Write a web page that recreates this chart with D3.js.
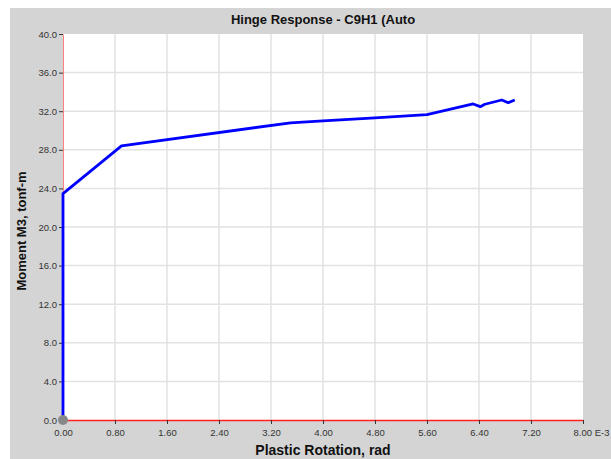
<!DOCTYPE html>
<html>
<head>
<meta charset="utf-8">
<script src="https://cdn.jsdelivr.net/npm/d3@7"></script>
<style>
  html, body { margin: 0; padding: 0; background: #ffffff; }
  svg { display: block; font-family: "Liberation Sans", Arial, sans-serif; }
</style>
</head>
<body>
<svg id="chart" width="611" height="459"></svg>
<script>
// Hinge backbone: plastic rotation (x 1e-3 rad) vs moment M3 (tonf-m)
const rotation = [0, 0, 0.90, 3.50, 4.00, 4.80, 5.60, 6.31, 6.42, 6.49, 6.75, 6.85, 6.95];
const moment   = [0, 23.45, 28.40, 30.80, 31.00, 31.30, 31.65, 32.75, 32.47, 32.72, 33.16, 32.88, 33.16];
const xTicks = [0, 0.8, 1.6, 2.4, 3.2, 4.0, 4.8, 5.6, 6.4, 7.2, 8.0];
const yTicks = [0, 4, 8, 12, 16, 20, 24, 28, 32, 36, 40];

const svg = d3.select("#chart");
const W = 611, H = 459;
const plot = { left: 63, right: 583, top: 34, bottom: 420 };

// panel background
svg.append("rect").attr("x", 10).attr("y", 8).attr("width", W - 10).attr("height", H - 8)
  .attr("fill", "#d4d4d4");
svg.append("rect").attr("x", plot.left).attr("y", plot.top)
  .attr("width", plot.right - plot.left).attr("height", plot.bottom - plot.top)
  .attr("fill", "#ffffff");

const x = d3.scaleLinear().domain([0, 8]).range([plot.left, plot.right]);
const y = d3.scaleLinear().domain([0, 40]).range([plot.bottom, plot.top]);

// grid
svg.append("g").selectAll("line").data(xTicks.slice(1, -1)).join("line")
  .attr("x1", d => x(d)).attr("x2", d => x(d))
  .attr("y1", plot.top).attr("y2", plot.bottom)
  .attr("stroke", "#e2e2e2").attr("stroke-width", 1.5);
svg.append("g").selectAll("line").data(yTicks.slice(1, -1)).join("line")
  .attr("x1", plot.left).attr("x2", plot.right)
  .attr("y1", d => y(d)).attr("y2", d => y(d))
  .attr("stroke", "#e2e2e2").attr("stroke-width", 1.5);

// axes
const fmtX = d => d === 8 ? "8.00 E-3" : d.toFixed(2);
const xAxis = svg.append("g").attr("transform", `translate(0,${plot.bottom})`)
  .call(d3.axisBottom(x).tickValues(xTicks).tickFormat(fmtX).tickSize(4).tickSizeOuter(0));
xAxis.select(".domain").attr("stroke", "#ff2020").attr("stroke-width", 1.5);
xAxis.selectAll(".tick line").attr("stroke", "#333");
xAxis.selectAll(".tick text").attr("fill", "#333").attr("font-size", 9.5)
  .attr("dy", "0.95em")
  .attr("text-anchor", d => d === 8 ? "start" : "middle")
  .attr("dx", d => d === 8 ? "-10" : "0");

const yAxis = svg.append("g").attr("transform", `translate(${plot.left},0)`)
  .call(d3.axisLeft(y).tickValues(yTicks).tickFormat(d => d.toFixed(1)).tickSize(4).tickSizeOuter(0));
yAxis.select(".domain").attr("stroke", "#ff8080").attr("stroke-width", 1);
yAxis.selectAll(".tick line").attr("stroke", "#333");
yAxis.selectAll(".tick text").attr("fill", "#333").attr("font-size", 9.5).attr("x", -6);

// curve
const pts = rotation.map((r, i) => [r, moment[i]]);
svg.append("path").datum(pts)
  .attr("d", d3.line().x(d => x(d[0])).y(d => y(d[1])))
  .attr("fill", "none").attr("stroke", "#0000ff").attr("stroke-width", 2.8)
  .attr("stroke-linejoin", "round");

// origin marker
svg.append("circle").attr("cx", x(0)).attr("cy", y(0)).attr("r", 5).attr("fill", "#888888");

// titles
svg.append("text").attr("x", 323).attr("y", 24).attr("text-anchor", "middle")
  .attr("font-size", 13).attr("font-weight", "bold").attr("fill", "#111")
  .text("Hinge Response - C9H1 (Auto");
svg.append("text").attr("x", 323).attr("y", 455).attr("text-anchor", "middle")
  .attr("font-size", 14).attr("font-weight", "bold").attr("fill", "#111")
  .text("Plastic Rotation, rad");
svg.append("text").attr("transform", "translate(26,231) rotate(-90)").attr("text-anchor", "middle")
  .attr("font-size", 13).attr("font-weight", "bold").attr("fill", "#111")
  .text("Moment M3, tonf-m");
</script>
</body>
</html>
